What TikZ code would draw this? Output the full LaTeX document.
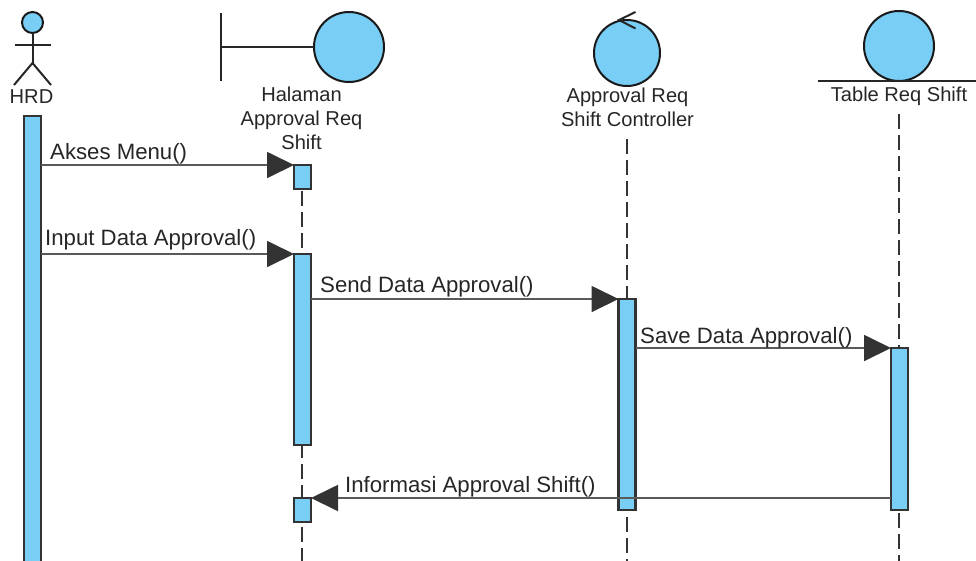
\documentclass[tikz,border=0pt]{standalone}
\usepackage{fontspec}
\setmainfont{Liberation Sans}
\usetikzlibrary{arrows.meta}
\definecolor{lifeblue}{HTML}{79CEF5}
\definecolor{inkgrey}{HTML}{333333}

\begin{document}
\begin{tikzpicture}[
    x=1pt, y=-1pt,
    figure/.style={line width=2pt, draw=black!85},
    round/.style={circle, draw=black!90, fill=lifeblue, line width=2pt, inner sep=0pt, outer sep=0pt},
    objname/.style={font=\fontsize{20.1}{24}\selectfont, text=black!85, align=center, inner sep=0pt},
    activation/.style={rectangle, anchor=north, draw=inkgrey, fill=lifeblue, line width=2.4pt, inner sep=0pt, outer sep=0pt, minimum width=17pt},
    lifeline/.style={line width=2.2pt, draw=inkgrey, dash pattern=on 15pt off 6pt},
    message/.style={line width=1.8pt, draw=black!65, -{Triangle[length=27pt,width=26pt,color=inkgrey]}},
    msgname/.style={font=\fontsize{22.2}{24}\selectfont, text=black!85, anchor=base west, inner sep=0pt}
  ]
    \useasboundingbox (0,0) rectangle (976,560);
    % Actor
    \node[round, minimum size=21pt] (hrdhead) at (32.5,22.5) {};
    \coordinate (hrdhip) at (32.5,63);
    \coordinate (hrdarml) at (14.5,45);
    \coordinate (hrdarmr) at (51,45);
    \coordinate (hrdfootl) at (14,85);
    \coordinate (hrdfootr) at (51,85);
    \draw[figure] (hrdhead) -- (hrdhip);
    \draw[figure] (hrdarml) -- (hrdarmr);
    \draw[figure] (hrdfootl) -- (hrdhip) -- (hrdfootr);
    \node[objname] (hrdname) at (31.5,96.5) {HRD};
    % Boundary
    \node[round, minimum size=70pt] (pagecircle) at (349,47) {};
    \coordinate (pagetop) at (221,13);
    \coordinate (pagemid) at (221,47);
    \coordinate (pagebot) at (221,81);
    \draw[figure] (pagetop) -- (pagebot);
    \draw[figure] (pagemid) -- (pagecircle);
    \node[objname] (pagename) at (301.5,118) {Halaman\\Approval Req\\Shift};
    % Control
    \node[round, minimum size=66pt] (ctrlcircle) at (627,53) {};
    \coordinate (ctrltip) at (619,20);
    \coordinate (ctrlup) at (635.5,12);
    \coordinate (ctrldown) at (635.5,28.5);
    \draw[figure] (ctrlup) -- (ctrltip) -- (ctrldown);
    \node[objname] (ctrlname) at (627.5,107) {Approval Req\\Shift Controller};
    % Entity
    \node[round, minimum size=70pt] (tablecircle) at (899,46) {};
    \coordinate (tableleft) at (818,81);
    \coordinate (tableright) at (976,81);
    \draw[figure] (tableleft) -- (tableright);
    \node[objname] (tablename) at (899,96) {Table Req Shift};
    % Free ends of the lifelines
    \coordinate (pagestart) at (302,170);
    \coordinate (ctrlstart) at (627,139);
    \coordinate (tablestart) at (899,114);
    \coordinate (pageend) at (302,570);
    \coordinate (ctrlend) at (627,570);
    \coordinate (tableend) at (899,570);
    % Lifelines
    \draw[lifeline] (pagestart) -- (pageend);
    \draw[lifeline] (ctrlstart) -- (ctrlend);
    \draw[lifeline] (tablestart) -- (tableend);
    % Activations
    \node[activation, minimum height=460pt] (hrdbar) at (32.5,116) {};
    \node[activation, minimum height=24pt] (menubar) at (302.5,165) {};
    \node[activation, minimum height=191pt] (inputbar) at (302.5,254) {};
    \node[activation, minimum height=24pt] (infobar) at (302.5,498) {};
    \node[activation, minimum height=211pt] (sendbar) at (627,299) {};
    \node[activation, minimum height=162pt] (savebar) at (899.5,348) {};
    % Messages
    \draw[message] (hrdbar.east |- menubar.north west) -- (menubar.north west);
    \draw[message] (hrdbar.east |- inputbar.north west) -- (inputbar.north west);
    \draw[message] (inputbar.east |- sendbar.north west) -- (sendbar.north west);
    \draw[message] (sendbar.east |- savebar.north west) -- (savebar.north west);
    \draw[message] (savebar.west |- infobar.north east) -- (infobar.north east);
    \node[msgname] (menumsg) at (50,159.5) {Akses Menu()};
    \node[msgname] (inputmsg) at (45,245) {Input Data Approval()};
    \node[msgname] (sendmsg) at (320,292) {Send Data Approval()};
    \node[msgname] (savemsg) at (640,343) {Save Data Approval()};
    \node[msgname] (infomsg) at (345,492.5) {Informasi Approval Shift()};
  \end{tikzpicture}
\end{document}
